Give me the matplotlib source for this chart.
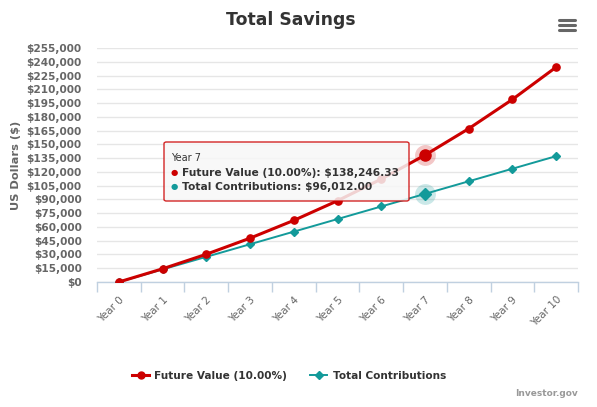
import matplotlib
matplotlib.use("Agg")
import matplotlib.pyplot as plt
from matplotlib.lines import Line2D
from matplotlib.patches import FancyBboxPatch
from matplotlib.ticker import FuncFormatter, MultipleLocator, FixedLocator

# data
years = ["Year %d" % i for i in range(11)]
future_value = [12, 14374, 30240, 47767, 67129, 88520, 112149, 138246.33, 167091, 198948, 234141]
contributions = [12, 13726, 27441, 41155, 54869, 68583, 82298, 96012, 109726, 123441, 137155]
hover_idx = 7

RED = "#cc0000"
TEAL = "#139a9a"
GRAY = "#666666"
AXIS = "#c0d0e0"

plt.rcParams["font.family"] = ["DejaVu Sans"]

W, H = 597, 407
fig = plt.figure(figsize=(W / 100, H / 100), dpi=100)

def fx(px):
    return px / W

def fy(py):
    return 1 - py / H

ax = fig.add_axes([fx(97), fy(282), fx(578) - fx(97), fy(48) - fy(282)])

x = list(range(len(years)))
ax.plot(x, future_value, color=RED, lw=2.2, marker="o", ms=5.2, zorder=4)
ax.plot(x, contributions, color=TEAL, lw=1.4, marker="D", ms=3.8, zorder=3)

# hover state at Year 7
ax.plot(hover_idx, future_value[hover_idx], "o", ms=15, color=RED, alpha=0.22,
        mec="none", zorder=5)
ax.plot(hover_idx, future_value[hover_idx], "o", ms=8, color=RED, zorder=6)
ax.plot(hover_idx, contributions[hover_idx], "o", ms=15, color=TEAL, alpha=0.22,
        mec="none", zorder=5)
ax.plot(hover_idx, contributions[hover_idx], "D", ms=6, color=TEAL, zorder=6)

ax.set_xlim(-0.5, len(years) - 0.5)
ax.set_ylim(0, 255000)
ax.yaxis.set_major_locator(MultipleLocator(15000))
ax.yaxis.set_major_formatter(FuncFormatter(lambda v, p: "${:,.0f}".format(v)))
ax.grid(axis="y", color="#e6e6e6", lw=1)
ax.set_axisbelow(True)

ax.set_xticks(x)
ax.set_xticklabels(years, rotation=45, ha="right", rotation_mode="anchor",
                   fontsize=7.5, color=GRAY)
ax.xaxis.set_minor_locator(FixedLocator([i - 0.5 for i in range(len(years) + 1)]))
ax.tick_params(axis="x", which="major", length=0, pad=9)
ax.tick_params(axis="x", which="minor", length=7, color=AXIS, width=1)
ax.tick_params(axis="y", length=0, pad=11, labelsize=7.6, labelcolor=GRAY)
for lab in ax.get_yticklabels():
    lab.set_fontweight("bold")

for s in ["top", "right", "left"]:
    ax.spines[s].set_visible(False)
ax.spines["bottom"].set_color(AXIS)
ax.spines["bottom"].set_linewidth(1)

ax.set_ylabel("US Dollars ($)", fontsize=8.2, fontweight="bold", color=GRAY, labelpad=4)

fig.text(fx(291), fy(20), "Total Savings", ha="center", va="center",
         fontsize=12.4, fontweight="bold", color="#333333")

# context menu icon
for yy in (19.5, 24.5, 29.5):
    fig.add_artist(Line2D([fx(559), fx(575)], [fy(yy), fy(yy)], color=GRAY,
                          lw=2.2, solid_capstyle="round"))

# tooltip
box = FancyBboxPatch((fx(164), fy(201)), fx(409) - fx(164), fy(142) - fy(201),
                     boxstyle="round,pad=0,rounding_size=0.004",
                     transform=fig.transFigure, facecolor="#f7f7f7", alpha=0.85,
                     edgecolor=RED, lw=1, zorder=10)
fig.add_artist(box)
fig.text(fx(171), fy(158), "Year 7", fontsize=7, color="#333333", va="center", zorder=11)
fig.text(fx(171), fy(173), "\u25cf", fontsize=6, color=RED, va="center", zorder=11)
fig.text(fx(182), fy(173), "Future Value (10.00%): ${:,.2f}".format(future_value[hover_idx]),
         fontsize=7.7, fontweight="bold", color="#333333", va="center", zorder=11)
fig.text(fx(171), fy(187), "\u25cf", fontsize=6, color=TEAL, va="center", zorder=11)
fig.text(fx(182), fy(187), "Total Contributions: ${:,.2f}".format(contributions[hover_idx]),
         fontsize=7.7, fontweight="bold", color="#333333", va="center", zorder=11)

handles = [Line2D([], [], color=RED, lw=2.2, marker="o", ms=5),
           Line2D([], [], color=TEAL, lw=1.4, marker="D", ms=3.8)]
leg = fig.legend(handles, ["Future Value (10.00%)", "Total Contributions"],
                 loc="center", bbox_to_anchor=(fx(289), fy(376)), ncol=2,
                 frameon=False, handlelength=1.6, handletextpad=0.5,
                 columnspacing=2.2, prop={"size": 7.6, "weight": "bold"})
for t in leg.get_texts():
    t.set_color("#333333")

fig.text(fx(578), fy(394), "Investor.gov", ha="right", va="center",
         fontsize=6.5, fontweight="bold", color="#999999")

fig.savefig("out.png", dpi=100)
